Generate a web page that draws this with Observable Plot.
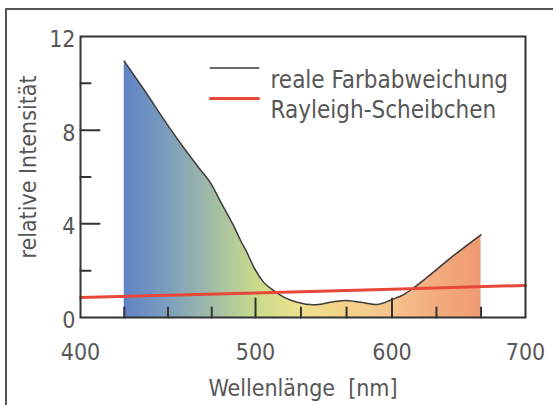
<!DOCTYPE html>
<html><head><meta charset="utf-8">
<script src="https://cdn.jsdelivr.net/npm/d3@7"></script>
<script src="https://cdn.jsdelivr.net/npm/@observablehq/plot@0.6"></script>
<style>
body{margin:0;background:#fff;}
#wrap{position:relative;width:553px;height:405px;overflow:hidden;}
#wrap svg{display:block;}
.bl{position:absolute;background:#555;pointer-events:none;z-index:5;}
</style></head><body><div id="wrap"><div class="bl" style="left:5px;top:8px;width:2px;height:400px"></div><div class="bl" style="left:5px;top:8px;width:560px;height:2px"></div></div>
<script>
// Measured curve "reale Farbabweichung"
const wavelength = [425, 437, 449.5, 459, 468.6, 474.3, 480, 487.6, 491.4, 495.3, 499, 506, 513.4, 520.7, 530.5, 542.7, 554.9, 565.9, 576.9, 589.2, 600.1, 608.8, 616.3, 626.4, 646.3, 666.7];
const intensity  = [10.95, 9.65, 8.25, 7.25, 6.3, 5.75, 4.95, 3.9, 3.3, 2.75, 2.15, 1.5, 1.15, 0.87, 0.65, 0.54, 0.65, 0.73, 0.65, 0.56, 0.77, 0.98, 1.27, 1.72, 2.65, 3.53];
// Rayleigh-Scheibchen line
const rayleighWave  = [400, 500, 600, 700];
const rayleighValue = [0.85, 1.05, 1.21, 1.37];
// Spectrum colours under the curve
const gradWave  = [425, 450, 475, 500, 530, 560, 600, 630, 666.7];
const gradColor = ["#5f82c6", "#7c9ebd", "#a0bba6", "#c8da8c", "#ece08e", "#f4d488", "#f6c48e", "#f3ad80", "#f09a72"];
// Axes
const xLabels = [400, 500, 600, 700];
const yLabels = [0, 4, 8, 12];
const xMajorTicks = [500, 600];
const xMinorTicks = [425, 450, 475, 533.3, 566.7, 633.3, 666.7];
const yMajorTicks = [4, 8];
const yMinorTicks = [2, 6, 10];
const xTitle = "Wellenlänge\u00a0\u00a0[nm]";
const yTitle = "relative Intensität";
const legendLabels = ["reale Farbabweichung", "Rayleigh-Scheibchen"];
const legendColors = ["#6a6a6a", "#e8483a"];

const curve = wavelength.map((w, i) => ({w, v: intensity[i]}));
const rayleigh = rayleighWave.map((w, i) => ({w, v: rayleighValue[i]}));

const FONT = "DejaVu Sans Condensed";
const INK = "#333";
const TXT = "#575757";
const lineShape = {draw(ctx, l) { ctx.moveTo(0, 0); ctx.lineTo(0, -l); }};

const tick = (data, len, vertical) => Plot.vector(data, vertical
  ? {x: d => d, y: 0, length: len, rotate: 0, anchor: "start", shape: lineShape, stroke: INK, strokeWidth: 2}
  : {x: 400, y: d => d, length: len, rotate: 90, anchor: "start", shape: lineShape, stroke: INK, strokeWidth: 2});

const legendMarks = legendLabels.flatMap((lab, i) => [
  Plot.vector([lab], {frameAnchor: "top-left", dx: 130, dy: 31.5 + i * 30.5, length: 48, rotate: 90, anchor: "start",
    shape: lineShape, stroke: legendColors[i], strokeWidth: i === 0 ? 2 : 3}),
  Plot.text([lab], {frameAnchor: "top-left", dx: 190, dy: 34 + i * 30.5, text: d => d, textAnchor: "start",
    fontSize: 24, fill: TXT})
]);

const chart = Plot.plot({
  width: 553, height: 405,
  marginLeft: 80, marginRight: 28, marginTop: 36, marginBottom: 88,
  style: {fontFamily: FONT, color: TXT, background: "transparent"},
  x: {type: "linear", domain: xLabels, range: [80, 255, 391.5, 525]},
  y: {domain: [0, 12]},
  marks: [
    Plot.areaY(curve, {x: "w", y: "v", fill: "url(#spec)", curve: "monotone-x"}),
    Plot.line(curve, {x: "w", y: "v", stroke: "#3d3d3d", strokeWidth: 1.5, curve: "monotone-x"}),
    Plot.line(rayleigh, {x: "w", y: "v", stroke: "#e8483a", strokeWidth: 3}),
    tick(xMinorTicks, 10, true), tick(xMajorTicks, 19, true),
    tick(yMinorTicks, 10, false), tick(yMajorTicks, 19, false),
    Plot.axisX({ticks: xLabels, tickSize: 0, tickPadding: 26, fontSize: 23, label: null, fill: TXT}),
    Plot.axisY({ticks: yLabels, tickSize: 0, tickPadding: 5, dy: 3, fontSize: 23, label: null, fill: TXT}),
    Plot.text([xTitle], {frameAnchor: "bottom", dy: 62, lineAnchor: "top", text: d => d, fontSize: 23, fill: TXT}),
    Plot.text([yTitle], {frameAnchor: "left", dx: -52, dy: -10, rotate: -90, textAnchor: "middle", lineAnchor: "middle",
      text: d => d, fontSize: 23, fill: TXT}),
    ...legendMarks,
    Plot.frame({stroke: INK, strokeWidth: 2})
  ]
});

// gradient definition positioned with the x scale
const xs = chart.scale("x");
const x1 = xs.apply(gradWave[0]), x2 = xs.apply(gradWave[gradWave.length - 1]);
const defs = d3.select(chart).insert("defs", ":first-child");
const lg = defs.append("linearGradient").attr("id", "spec").attr("gradientUnits", "userSpaceOnUse")
  .attr("x1", x1).attr("x2", x2).attr("y1", 0).attr("y2", 0);
gradWave.forEach((w, i) => lg.append("stop").attr("offset", (xs.apply(w) - x1) / (x2 - x1)).attr("stop-color", gradColor[i]));

document.getElementById("wrap").prepend(chart);
</script></body></html>
